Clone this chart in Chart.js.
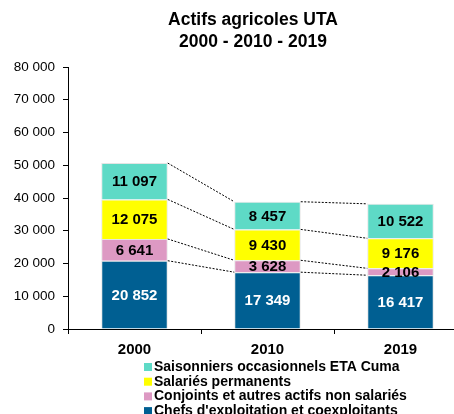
<!DOCTYPE html>
<html>
<head>
<meta charset="utf-8">
<script src="https://cdn.jsdelivr.net/npm/chart.js@4.4.1/dist/chart.umd.min.js"></script>
<style>
    html, body { margin: 0; padding: 0; background: #fff; overflow: hidden; }
    #wrap { width: 480px; height: 414px; }
</style>
</head>
<body>
<div id="wrap"><canvas id="chart" width="480" height="414"></canvas></div>
<script>
// Data
const years = ['2000', '2010', '2019'];
const chefs = [20852, 17349, 16417];
const conjoints = [6641, 3628, 2106];
const salaries = [12075, 9430, 9176];
const saisonniers = [11097, 8457, 10522];

const titleLines = ['Actifs agricoles UTA', '2000 - 2010 - 2019'];
const seriesNames = [
    'Chefs d\'exploitation et coexploitants',
    'Conjoints et autres actifs non salariés',
    'Salariés permanents',
    'Saisonniers occasionnels ETA Cuma'
];
const seriesColors = ['#005F92', '#DD99C3', '#FFFF00', '#5EDAC6'];
const labelColors = ['#fff', '#000', '#000', '#000'];

const FONT = '"Liberation Sans", Arial, sans-serif';

function fmt(v) {
    return String(v).replace(/\B(?=(\d{3})+(?!\d))/g, ' ');
}

// Title, dotted connectors, value labels and legend
const extras = {
    id: 'extras',
    afterDatasetsDraw(chart) {
        const ctx = chart.ctx;

        // connectors between segment tops
        ctx.save();
        ctx.strokeStyle = '#000';
        ctx.lineWidth = 1;
        ctx.setLineDash([2, 1.5]);
        chart.data.datasets.forEach((ds, di) => {
            const meta = chart.getDatasetMeta(di);
            for (let i = 0; i < years.length - 1; i++) {
                const a = meta.data[i];
                const b = meta.data[i + 1];
                ctx.beginPath();
                ctx.moveTo(a.x + a.width / 2, a.y);
                ctx.lineTo(b.x - b.width / 2, b.y);
                ctx.stroke();
            }
        });
        ctx.restore();

        // value labels
        ctx.save();
        ctx.font = 'bold 15px ' + FONT;
        ctx.textAlign = 'center';
        ctx.textBaseline = 'middle';
        chart.data.datasets.forEach((ds, di) => {
            const meta = chart.getDatasetMeta(di);
            meta.data.forEach((bar, i) => {
                ctx.fillStyle = labelColors[di];
                ctx.fillText(fmt(ds.data[i]), bar.x, (bar.y + bar.base) / 2 + 1);
            });
        });
        ctx.restore();
    },
    afterDraw(chart) {
        const ctx = chart.ctx;
        ctx.save();
        // title
        ctx.fillStyle = '#000';
        ctx.font = 'bold 17.5px ' + FONT;
        ctx.textAlign = 'center';
        ctx.textBaseline = 'middle';
        ctx.fillText(titleLines[0], 253, 20);
        ctx.fillText(titleLines[1], 253, 42);

        // legend (top of stack first)
        ctx.font = 'bold 14px ' + FONT;
        ctx.textAlign = 'left';
        ctx.textBaseline = 'alphabetic';
        const rows = [3, 2, 1, 0];
        rows.forEach((si, r) => {
            const base = 371 + r * 14.7;
            ctx.fillStyle = seriesColors[si];
            ctx.fillRect(144, base - 8, 8, 8);
            ctx.fillStyle = '#000';
            ctx.fillText(seriesNames[si], 154, base);
        });
        ctx.restore();
    }
};

new Chart(document.getElementById('chart'), {
    type: 'bar',
    data: {
        labels: years,
        datasets: [chefs, conjoints, salaries, saisonniers].map((d, i) => ({
            label: seriesNames[i],
            data: d,
            backgroundColor: seriesColors[i],
            borderColor: 'rgba(225,225,225,0.9)',
            borderWidth: 1,
            barPercentage: 0.5,
            categoryPercentage: 1
        }))
    },
    options: {
        responsive: false,
        animation: false,
        layout: { padding: { top: 67, right: 13, left: 0, bottom: 0 } },
        plugins: {
            legend: { display: false },
            title: { display: false },
            tooltip: { enabled: false }
        },
        scales: {
            x: {
                stacked: true,
                afterFit: s => { s.height = 85; },
                border: { color: '#000', width: 1 },
                grid: { offset: true, drawOnChartArea: false, color: '#000', tickLength: 5 },
                ticks: { color: '#000', font: { family: FONT, size: 15, weight: 'bold' }, padding: 7 }
            },
            y: {
                stacked: true,
                min: 0,
                max: 80000,
                afterFit: s => { s.width = 68; },
                border: { color: '#000', width: 1 },
                grid: { drawOnChartArea: false, color: '#000', tickLength: 5 },
                ticks: {
                    stepSize: 10000,
                    color: '#000',
                    padding: 8,
                    font: { family: FONT, size: 13.5 },
                    callback: v => fmt(v)
                }
            }
        }
    },
    plugins: [extras]
});
</script>
</body>
</html>
